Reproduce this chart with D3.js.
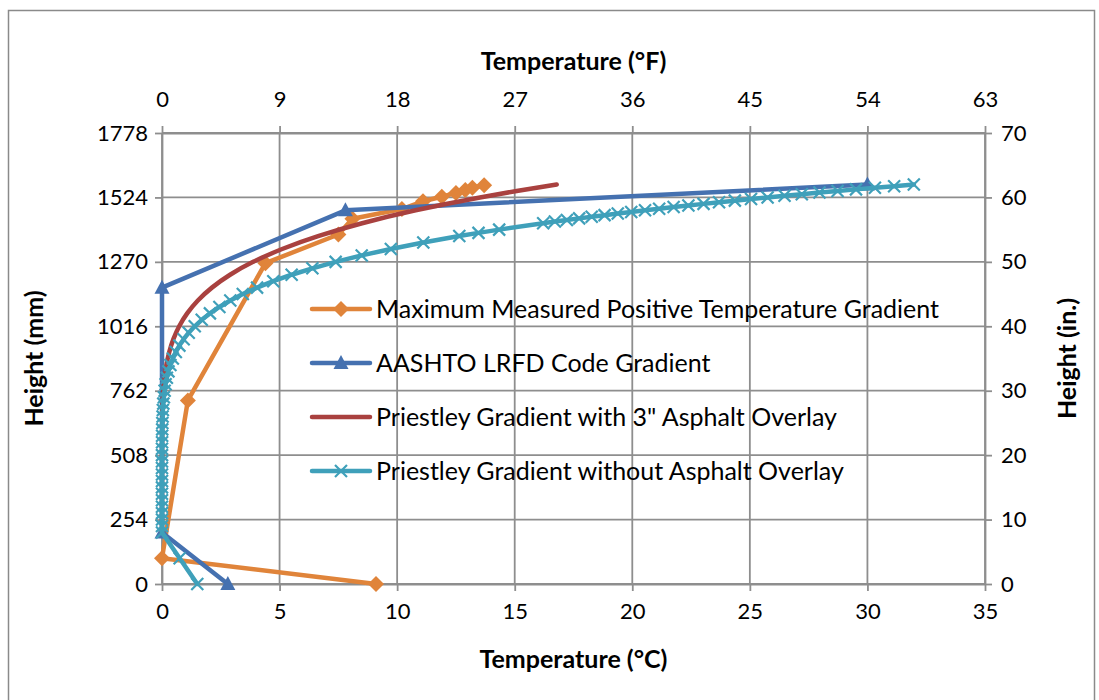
<!DOCTYPE html>
<html>
<head>
<meta charset="utf-8">
<script src="https://cdn.jsdelivr.net/npm/d3@7"></script>
<style>
  html, body { margin: 0; padding: 0; background: #ffffff; }
  svg text { font-family: Lato, "Open Sans", sans-serif; fill: #000; }
</style>
</head>
<body>
<script>
// ---- Data (temperatures in °C, heights in inches) ----
const seriesNames = [
  "Maximum Measured Positive Temperature Gradient",
  "AASHTO LRFD Code Gradient",
  "Priestley Gradient with 3\" Asphalt Overlay",
  "Priestley Gradient without Asphalt Overlay"
];

const measuredHeight = [0, 4.0, 28.5, 49.8, 54.25, 56.7, 58.2, 59.4, 60.1, 60.7, 61.15, 61.5, 61.9];
const measuredTemp   = [9.1, 0.0, 1.1, 4.4, 7.5, 8.1, 10.2, 11.1, 11.9, 12.5, 12.9, 13.2, 13.7];

const aashtoHeight = [0, 8, 46, 58, 62];
const aashtoTemp   = [2.8, 0, 0, 7.8, 30];

const asphaltHeight = [8, 15, 20, 25, 28, 30, 32, 34, 36, 38, 40, 42, 44, 46, 48, 50, 52, 54, 56, 58, 60, 61, 62];
const asphaltTemp   = [0, 0, 0, 0.008, 0.029, 0.059, 0.109, 0.188, 0.308, 0.484, 0.731, 1.070, 1.525,
                       2.123, 2.895, 3.877, 5.110, 6.638, 8.511, 10.785, 13.521, 15.083, 16.786];

const bareHeight = [0, 4, 8, 9, 10, 11, 12, 13, 14, 15, 16, 17, 18, 19, 20, 21, 22, 23, 24, 25, 26, 27,
                    28, 29, 30, 31, 32, 33, 34, 35, 36, 37, 38, 39, 40, 41, 42, 43, 44, 45, 46, 47, 48,
                    49, 50, 51, 52, 53, 54, 54.5, 55, 56, 56.25, 56.5, 56.75, 57, 57.25, 57.5, 57.75,
                    58, 58.25, 58.5, 58.75, 59, 59.25, 59.5, 59.75, 60, 60.25, 60.5, 60.75, 61, 61.25,
                    61.5, 61.75, 62];
const bareTemp   = [1.5, 0.75, 0, 0, 0, 0, 0, 0, 0, 0, 0, 0, 0, 0, 0, 0, 0.003, 0.005, 0.009, 0.015,
                    0.024, 0.037, 0.055, 0.080, 0.112, 0.153, 0.207, 0.274, 0.358, 0.461, 0.587, 0.739,
                    0.921, 1.137, 1.392, 1.690, 2.038, 2.441, 2.904, 3.436, 4.043, 4.733, 5.514, 6.395,
                    7.385, 8.494, 9.733, 11.112, 12.643, 13.46, 14.339, 16.211, 16.708, 17.218, 17.740,
                    18.274, 18.821, 19.382, 19.955, 20.542, 21.143, 21.758, 22.387, 23.030, 23.689,
                    24.362, 25.050, 25.754, 26.474, 27.209, 27.961, 28.729, 29.514, 30.318, 31.136, 31.973];

// ---- Axis ticks ----
const celsiusTicks = [0, 5, 10, 15, 20, 25, 30, 35];
const fahrenheitTicks = [0, 9, 18, 27, 36, 45, 54, 63];
const mmTicks = [0, 254, 508, 762, 1016, 1270, 1524, 1778];
const inchTicks = [0, 10, 20, 30, 40, 50, 60, 70];

// ---- Styling ----
const colors = ["#E0843A", "#4571B0", "#A9413F", "#3FA0BA"];
const gridColor = "#8e8e8e";
const fontFamily = "Lato, sans-serif";

const W = 1099, H = 700;
const plot = { left: 162, right: 985, top: 133, bottom: 584 };

const svg = d3.select("body").append("svg").attr("width", W).attr("height", H);

svg.append("rect").attr("x", 0).attr("y", 0).attr("width", W).attr("height", H).attr("fill", "#fff");
// chart frame
svg.append("rect").attr("x", 8.5).attr("y", 10.5).attr("width", 1086).attr("height", 700)
  .attr("fill", "none").attr("stroke", "#8a8a8a").attr("stroke-width", 1.5);

const x = d3.scaleLinear().domain([0, 35]).range([plot.left, plot.right]);
const xF = d3.scaleLinear().domain([0, 63]).range([plot.left, plot.right]);
const yIn = d3.scaleLinear().domain([0, 70]).range([plot.bottom, plot.top]);
const yMm = d3.scaleLinear().domain([0, 1778]).range([plot.bottom, plot.top]);

// gridlines
const grid = svg.append("g");
grid.selectAll("line.v").data(celsiusTicks).join("line")
  .attr("x1", d => x(d)).attr("x2", d => x(d))
  .attr("y1", plot.top).attr("y2", plot.bottom)
  .attr("stroke", gridColor).attr("stroke-width", 1.8);
grid.selectAll("line.h").data(mmTicks).join("line")
  .attr("x1", plot.left).attr("x2", plot.right)
  .attr("y1", d => yMm(d)).attr("y2", d => yMm(d))
  .attr("stroke", gridColor).attr("stroke-width", 1.8);

function styleAxis(g) {
  g.selectAll(".domain").attr("stroke", gridColor).attr("stroke-width", 1.8);
  g.selectAll(".tick line").attr("stroke", gridColor).attr("stroke-width", 1.8);
  g.selectAll(".tick text").style("font-family", fontFamily).style("font-size", "22px").attr("fill", "#000");
}

const plain = d3.format("d");
svg.append("g").attr("transform", `translate(0,${plot.bottom})`)
  .call(d3.axisBottom(x).tickValues(celsiusTicks).tickFormat(plain).tickSize(7).tickSizeOuter(0).tickPadding(12))
  .call(styleAxis);
svg.append("g").attr("transform", `translate(0,${plot.top})`)
  .call(d3.axisTop(xF).tickValues(fahrenheitTicks).tickFormat(plain).tickSize(7).tickSizeOuter(0).tickPadding(19))
  .call(styleAxis);
svg.append("g").attr("transform", `translate(${plot.left},0)`)
  .call(d3.axisLeft(yMm).tickValues(mmTicks).tickFormat(plain).tickSize(7).tickSizeOuter(0).tickPadding(7))
  .call(styleAxis);
svg.append("g").attr("transform", `translate(${plot.right},0)`)
  .call(d3.axisRight(yIn).tickValues(inchTicks).tickFormat(plain).tickSize(7).tickSizeOuter(0).tickPadding(9))
  .call(styleAxis);

// axis titles
const titleStyle = t => t.style("font-family", fontFamily).style("font-weight", "bold").style("font-size", "25px");
svg.append("text").attr("x", (plot.left + plot.right) / 2).attr("y", 70).attr("text-anchor", "middle")
  .text("Temperature (°F)").call(titleStyle);
svg.append("text").attr("x", (plot.left + plot.right) / 2).attr("y", 668).attr("text-anchor", "middle")
  .text("Temperature (°C)").call(titleStyle);
svg.append("text").attr("transform", `translate(43,${(plot.top + plot.bottom) / 2}) rotate(-90)`)
  .attr("text-anchor", "middle").text("Height (mm)").call(titleStyle);
svg.append("text").attr("transform", `translate(1076,${(plot.top + plot.bottom) / 2}) rotate(-90)`)
  .attr("text-anchor", "middle").text("Height (in.)").call(titleStyle);

// marker shapes
const diamondPath = "M0,-8L8,0L0,8L-8,0Z";
const trianglePath = "M0,-8L7.5,6L-7.5,6Z";
const crossPath = "M-6,-6L6,6M-6,6L6,-6";

function drawMarker(g, kind, color) {
  if (kind === "diamond") g.append("path").attr("d", diamondPath).attr("fill", color);
  else if (kind === "triangle") g.append("path").attr("d", trianglePath).attr("fill", color);
  else if (kind === "cross") g.append("path").attr("d", crossPath).attr("fill", "none")
    .attr("stroke", color).attr("stroke-width", 2.2);
}

const series = [
  { h: measuredHeight, t: measuredTemp, marker: "diamond", curve: d3.curveLinear },
  { h: aashtoHeight, t: aashtoTemp, marker: "triangle", curve: d3.curveLinear },
  { h: asphaltHeight, t: asphaltTemp, marker: null, curve: d3.curveMonotoneY },
  { h: bareHeight, t: bareTemp, marker: "cross", curve: d3.curveLinear }
];

const lineWidth = 4.5;
const layer = svg.append("g");
series.forEach((s, i) => {
  const pts = s.h.map((h, k) => [s.t[k], h]);
  const line = d3.line().x(d => x(d[0])).y(d => yIn(d[1])).curve(s.curve);
  const g = layer.append("g");
  g.append("path").attr("d", line(pts)).attr("fill", "none")
    .attr("stroke", colors[i]).attr("stroke-width", lineWidth)
    .attr("stroke-linejoin", "round").attr("stroke-linecap", "round");
  if (s.marker) {
    pts.forEach(p => {
      const m = g.append("g").attr("transform", `translate(${x(p[0])},${yIn(p[1])})`);
      drawMarker(m, s.marker, colors[i]);
    });
  }
});

// legend
const legendY = [309, 363, 417, 471];
const legend = svg.append("g");
seriesNames.forEach((name, i) => {
  const g = legend.append("g").attr("transform", `translate(0,${legendY[i]})`);
  g.append("line").attr("x1", 312).attr("x2", 370).attr("y1", 0).attr("y2", 0)
    .attr("stroke", colors[i]).attr("stroke-width", lineWidth).attr("stroke-linecap", "round");
  if (series[i].marker) drawMarker(g.append("g").attr("transform", "translate(341,0)"), series[i].marker, colors[i]);
  g.append("text").attr("x", 376).attr("y", 0).attr("dy", "0.35em")
    .style("font-family", fontFamily).style("font-size", "25px").text(name);
});
</script>
</body>
</html>
